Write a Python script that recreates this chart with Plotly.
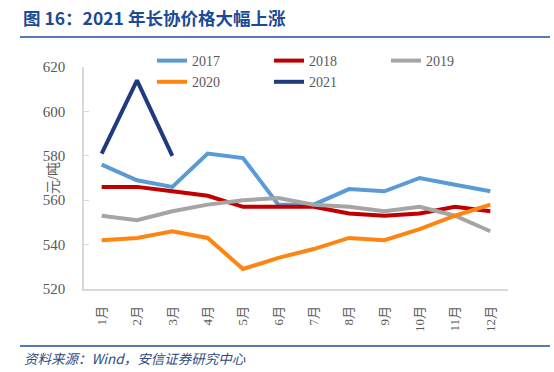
import plotly.graph_objects as go

months = ["1月", "2月", "3月", "4月", "5月", "6月", "7月", "8月", "9月", "10月", "11月", "12月"]
y2017 = [576, 569, 566, 581, 579, 558, 558, 565, 564, 570, 567, 564]
y2018 = [566, 566, 564, 562, 557, 557, 557, 554, 553, 554, 557, 555]
y2019 = [553, 551, 555, 558, 560, 561, 558, 557, 555, 557, 553, 546]
y2020 = [542, 543, 546, 543, 529, 534, 538, 543, 542, 547, 553, 558]
y2021 = [581, 614, 580]
y_ticks = [520, 540, 560, 580, 600, 620]

series = [
    ("2017", y2017, "#5B9BD5"),
    ("2018", y2018, "#C00000"),
    ("2019", y2019, "#A5A5A5"),
    ("2020", y2020, "#FF8512"),
    ("2021", y2021, "#1F3A7D"),
]

fig = go.Figure()
for name, vals, col in series:
    fig.add_trace(go.Scatter(
        x=months[:len(vals)], y=vals, name=name, mode="lines",
        line=dict(color=col, width=4),
    ))

W, H = 554, 372
L, R, T, B = 84, 46, 67, 83
pw, ph = W - L - R, H - T - B

def px(x):
    return (x - L) / pw

def py(y):
    return (H - B - y) / ph

serif = "Liberation Serif, Times New Roman, Noto Sans CJK SC, serif"

fig.update_layout(
    width=W, height=H,
    margin=dict(l=L, r=R, t=T, b=B, autoexpand=False),
    paper_bgcolor="white", plot_bgcolor="white",
    showlegend=True,
    legend=dict(
        orientation="h", x=px(152), xanchor="left", y=py(45), yanchor="top",
        font=dict(family=serif, size=14, color="#595959"),
        entrywidth=72, tracegroupgap=0, bgcolor="rgba(0,0,0,0)",
        itemwidth=30,
    ),
    xaxis=dict(
        type="category", categoryorder="array", categoryarray=months,
        range=[-0.5, 11.5],
        showline=True, linecolor="#D9D9D9", linewidth=1.5,
        showgrid=False, ticks="", tickangle=-90,
        tickfont=dict(family=serif, size=13, color="#595959"),
        ticklabelstandoff=10,
        zeroline=False,
    ),
    yaxis=dict(
        range=[520, 620], tickvals=y_ticks,
        showline=True, linecolor="#D9D9D9", linewidth=1.5,
        showgrid=False, ticks="inside", ticklen=5, tickcolor="#D9D9D9",
        tickfont=dict(family=serif, size=15, color="#595959"),
        ticklabelstandoff=14,
        zeroline=False,
    ),
    shapes=[
        dict(type="line", xref="paper", yref="paper", x0=px(20), x1=px(550),
             y0=py(37), y1=py(37), line=dict(color="#1F4E9A", width=1.5)),
        dict(type="line", xref="paper", yref="paper", x0=px(20), x1=px(550),
             y0=py(346), y1=py(346), line=dict(color="#1F4E9A", width=1.5)),
    ],
    annotations=[
        dict(text="<b>图 16：2021 年长协价格大幅上涨</b>", xref="paper", yref="paper",
             x=px(21), y=py(17), xanchor="left", yanchor="middle", showarrow=False,
             font=dict(family="Noto Sans CJK SC, sans-serif", size=17.5, color="#1B4A96")),
        dict(text="<i>资料来源：Wind，安信证券研究中心</i>", xref="paper", yref="paper",
             x=px(22), y=py(358), xanchor="left", yanchor="middle", showarrow=False,
             font=dict(family="Noto Sans CJK SC, sans-serif", size=13.5, color="#2F4B80")),
        dict(text="元/吨", xref="paper", yref="paper", textangle=-90,
             x=px(53), y=py(178), xanchor="center", yanchor="middle", showarrow=False,
             font=dict(family=serif, size=14, color="#595959")),
    ],
)

fig.write_html("out.html", post_script="document.body.style.margin='0';",
               config={"displayModeBar": False})
